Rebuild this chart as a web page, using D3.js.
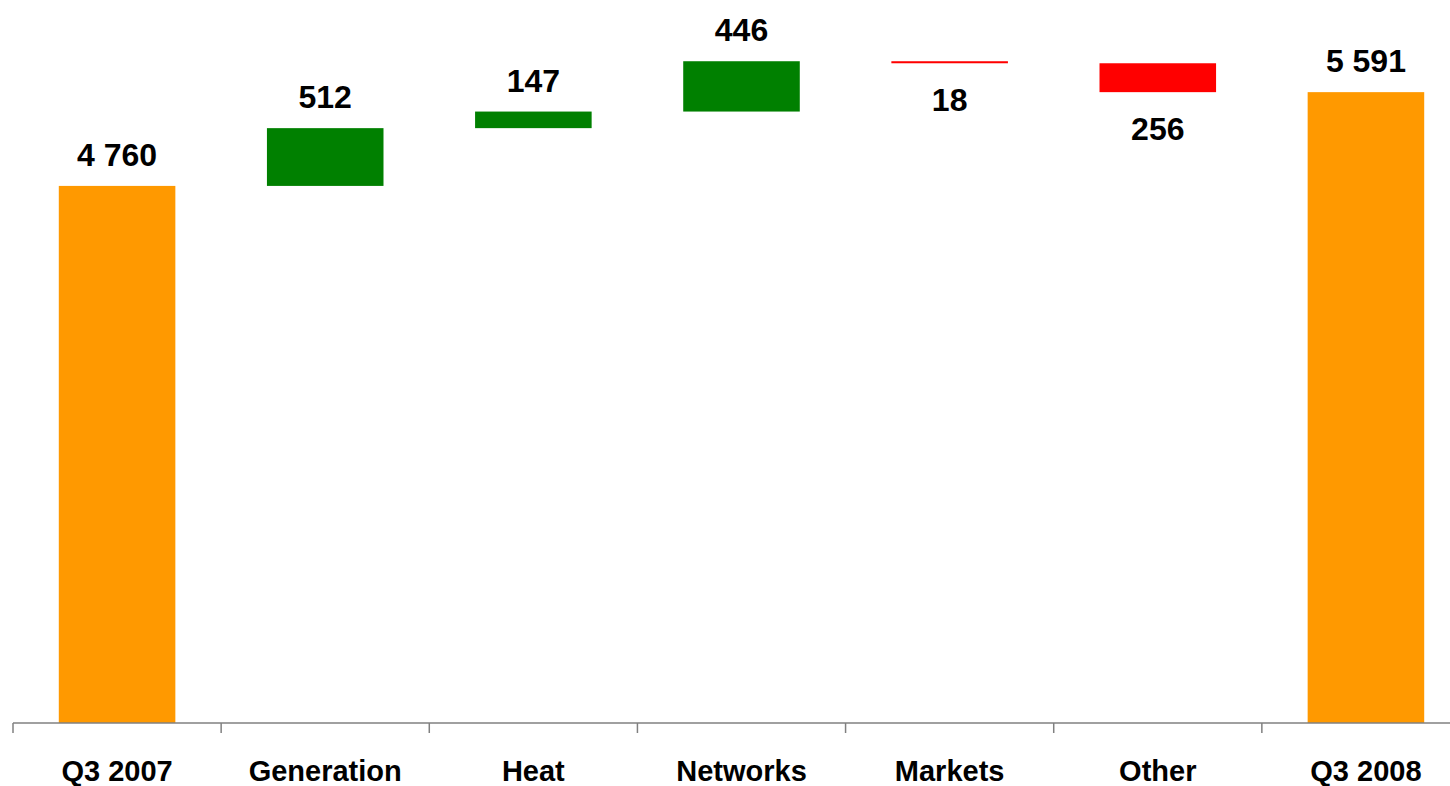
<!DOCTYPE html>
<html>
<head>
<meta charset="utf-8">
<script src="https://cdn.jsdelivr.net/npm/d3@7"></script>
<style>
  body { margin: 0; background: #fff; }
  svg { display: block; font-family: "Liberation Sans", Arial, sans-serif; }
</style>
</head>
<body>
<svg id="chart"></svg>
<script>
const categories = ['Q3 2007', 'Generation', 'Heat', 'Networks', 'Markets', 'Other', 'Q3 2008']
const kinds = ['total', 'delta', 'delta', 'delta', 'delta', 'delta', 'total']
const values = [4760, 512, 147, 446, -18, -256, 5591]

const w = 1450
const h = 786

const colors = {total: '#FF9900', up: '#008000', down: '#FF0000'}

const fmt = d3.formatLocale({decimal: '.', thousands: ' ', grouping: [3], currency: ['', '']}).format(',d')

// running totals for the floating bars
let running = 0
const steps = categories.map((c, i) => {
    let y0, y1
    if (kinds[i] === 'total') {
        y0 = 0
        y1 = values[i]
        running = values[i]
    } else {
        y0 = running
        y1 = running + values[i]
        running = y1
    }
    return {name: c, kind: kinds[i], value: values[i], y0, y1}
})

const svg = d3.select('#chart')
    .attr('width', w)
    .attr('height', h)

const x = d3.scaleBand()
    .domain(categories)
    .range([13, 1470])
    .paddingInner(0.44)
    .paddingOuter(0.22)

const y = d3.scaleLinear()
    .domain([0, 6000])
    .range([723, 46])

// bars
svg.selectAll('rect.bar')
    .data(steps)
    .enter()
    .append('rect')
    .attr('class', 'bar')
    .attr('x', d => x(d.name))
    .attr('width', x.bandwidth())
    .attr('y', d => y(Math.max(d.y0, d.y1)))
    .attr('height', d => Math.abs(y(d.y0) - y(d.y1)))
    .attr('fill', d => d.kind === 'total' ? colors.total : (d.value >= 0 ? colors.up : colors.down))

// value labels
svg.selectAll('text.value')
    .data(steps)
    .enter()
    .append('text')
    .attr('class', 'value')
    .attr('x', d => x(d.name) + x.bandwidth() / 2)
    .attr('y', d => d.value >= 0 ? y(Math.max(d.y0, d.y1)) - 20 : y(Math.min(d.y0, d.y1)) + 48)
    .attr('text-anchor', 'middle')
    .attr('font-size', 32)
    .attr('font-weight', 'bold')
    .attr('fill', '#000')
    .text(d => fmt(Math.abs(d.value)))

// axis line and ticks between categories
const step = x.step()
const x0 = 13
svg.append('line')
    .attr('x1', x0).attr('x2', w)
    .attr('y1', y(0)).attr('y2', y(0))
    .attr('stroke', '#808080')
    .attr('stroke-width', 1.5)

svg.selectAll('line.tick')
    .data(d3.range(categories.length))
    .enter()
    .append('line')
    .attr('class', 'tick')
    .attr('x1', i => x0 + i * step)
    .attr('x2', i => x0 + i * step)
    .attr('y1', y(0))
    .attr('y2', y(0) + 10)
    .attr('stroke', '#808080')
    .attr('stroke-width', 1.5)

svg.selectAll('text.cat')
    .data(categories)
    .enter()
    .append('text')
    .attr('class', 'cat')
    .attr('x', d => x(d) + x.bandwidth() / 2)
    .attr('y', 781)
    .attr('text-anchor', 'middle')
    .attr('font-size', 29)
    .attr('font-weight', 'bold')
    .attr('fill', '#000')
    .text(d => d)
</script>
</body>
</html>
